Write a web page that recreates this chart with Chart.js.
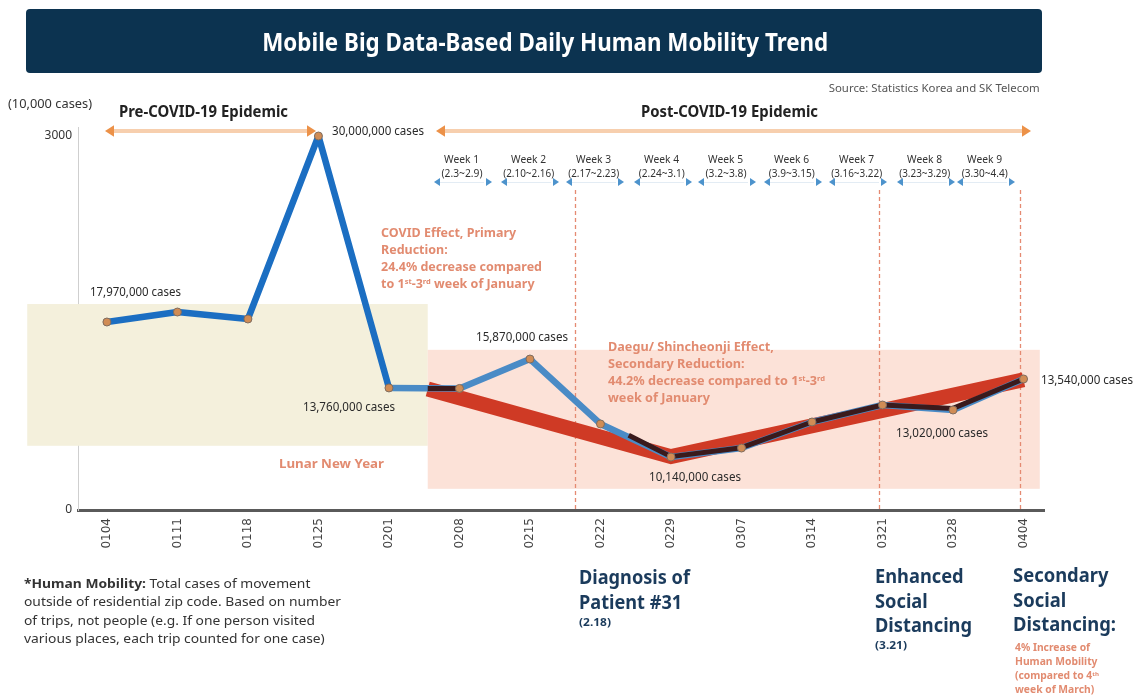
<!DOCTYPE html>
<html>
<head>
<meta charset="utf-8">
<script src="https://cdn.jsdelivr.net/npm/chart.js@4"></script>
<style>
  body { margin: 0; background: #fff; font-family: "Noto Sans", sans-serif; }
  #wrap { position: relative; width: 1138px; height: 695px; overflow: hidden; }
  #chart { position: absolute; left: 0; top: 0; }
  .banner { position: absolute; left: 26px; top: 9px; width: 1016px; height: 64px; background: #0c3350; border-radius: 4px; }
  .t { position: absolute; white-space: nowrap; line-height: 1; }
  .case { font-size: 12px; color: #2a2a2a; }
  .salmon { color: #e28b70; font-weight: bold; }
  .navy { color: #1b3b5c; font-weight: bold; }
  sup { font-size: 0.6em; vertical-align: 0.55em; line-height: 0; }
</style>
</head>
<body>
<div id="wrap">
  <div class="banner"></div>
  <canvas id="chart" width="1138" height="695"></canvas>

  <div class="t" data-x="545" data-align="center" data-w="566" style="top:29px;font-size:25px;font-weight:bold;color:#fff">Mobile Big Data-Based Daily Human Mobility Trend</div>
  <div class="t" data-x="1040" data-align="right" data-w="211" style="top:82px;font-size:11px;color:#555">Source: Statistics Korea and SK Telecom</div>
  <div class="t" data-x="8" data-w="84" style="top:98px;font-size:12px;color:#333">(10,000 cases)</div>
  <div class="t" data-x="119" data-w="169" style="top:103px;font-size:16px;font-weight:bold;color:#222">Pre-COVID-19 Epidemic</div>
  <div class="t" data-x="641" data-w="177" style="top:103px;font-size:16px;font-weight:bold;color:#222">Post-COVID-19 Epidemic</div>

  <div class="t case" data-x="332" data-w="92" style="top:125px">30,000,000 cases</div>
  <div class="t case" data-x="90" data-w="91" style="top:286px">17,970,000 cases</div>
  <div class="t case" data-x="303" data-w="92" style="top:401px">13,760,000 cases</div>
  <div class="t case" data-x="476" data-w="92" style="top:331px">15,870,000 cases</div>
  <div class="t case" data-x="649" data-w="92" style="top:471px">10,140,000 cases</div>
  <div class="t case" data-x="896" data-w="92" style="top:427px">13,020,000 cases</div>
  <div class="t case" data-x="1041" data-w="92" style="top:374px">13,540,000 cases</div>

  <div class="t salmon" data-x="381" data-w="161" style="top:224px;font-size:13px;line-height:17px">COVID Effect, Primary<br>Reduction:<br>24.4% decrease compared<br>to 1<sup>st</sup>-3<sup>rd</sup> week of January</div>
  <div class="t salmon" data-x="608" data-w="217" style="top:338px;font-size:13px;line-height:17px">Daegu/ Shincheonji Effect,<br>Secondary Reduction:<br>44.2% decrease compared to 1<sup>st</sup>-3<sup>rd</sup><br>week of January</div>
  <div class="t salmon" data-x="279" data-w="105" style="top:457px;font-size:13px">Lunar New Year</div>

  <div class="t" data-x="24" data-w="317" style="top:574px;font-size:13px;line-height:18.4px;color:#333"><b>*Human Mobility:</b> Total cases of movement<br>outside of residential zip code. Based on number<br>of trips, not people (e.g. If one person visited<br>various places, each trip counted for one case)</div>

  <div class="t navy" data-x="579" data-w="111" style="top:565px;font-size:19px;line-height:24.5px">Diagnosis of<br>Patient #31</div>
  <div class="t navy" data-x="579" data-w="32" style="top:616px;font-size:11px">(2.18)</div>
  <div class="t navy" data-x="875" data-w="97" style="top:564px;font-size:19px;line-height:24.5px">Enhanced<br>Social<br>Distancing</div>
  <div class="t navy" data-x="875" data-w="32" style="top:639px;font-size:11px">(3.21)</div>
  <div class="t navy" data-x="1013" data-w="103" style="top:563px;font-size:19px;line-height:24.5px">Secondary<br>Social<br>Distancing:</div>
  <div class="t salmon" data-x="1015" data-w="84" style="top:640px;font-size:10px;line-height:14px">4% Increase of<br>Human Mobility<br>(compared to 4<sup>th</sup><br>week of March)</div>
</div>

<script>
const dates = ["0104", "0111", "0118", "0125", "0201", "0208", "0215", "0222", "0229", "0307", "0314", "0321", "0328", "0404"];
// daily human mobility, 10,000 cases
const mobility = [1508, 1588, 1532, 3000, 979, 975, 1211, 690, 425, 497, 706, 842, 802, 1051];
// red trend band
const trendAt = [4.55, 8, 13];
const trendValues = [970, 428, 1045];
// dark overlay line
const darkAt = [4.55, 5, 6, 7.4, 8, 9, 10, 11, 12, 13];
const darkValues = [975, 975, null, 600, 428, 500, 706, 842, 815, 1051];
const weeks = ["Week 1", "Week 2", "Week 3", "Week 4", "Week 5", "Week 6", "Week 7", "Week 8", "Week 9"];
const weekRanges = ["(2.3~2.9)", "(2.10~2.16)", "(2.17~2.23)", "(2.24~3.1)", "(3.2~3.8)", "(3.9~3.15)", "(3.16~3.22)", "(3.23~3.29)", "(3.30~4.4)"];
const yTicks = [0, 3000];

const wrap = document.getElementById("wrap");
const weekX = [462, 529, 594, 662, 726, 792, 857, 925, 985];
weeks.forEach((w, i) => {
  const a = document.createElement("div");
  a.className = "t";
  a.textContent = w;
  a.dataset.x = weekX[i]; a.dataset.align = "center"; a.dataset.w = 35;
  a.style.cssText = "top:153px;font-size:11.5px;color:#333";
  wrap.appendChild(a);
  const b = document.createElement("div");
  b.className = "t";
  b.textContent = weekRanges[i];
  b.dataset.x = weekX[i]; b.dataset.align = "center"; b.dataset.w = Math.round(weekRanges[i].length * 4.6);
  b.style.cssText = "top:168px;font-size:10px;color:#333";
  wrap.appendChild(b);
});

// squeeze each text to the width it has in the picture
document.querySelectorAll(".t[data-w]").forEach(el => {
  const w0 = el.getBoundingClientRect().width;
  const s = Number(el.dataset.w) / w0;
  const x = Number(el.dataset.x);
  const align = el.dataset.align || "left";
  el.style.transformOrigin = align;
  el.style.left = (align === "center" ? x - w0 / 2 : align === "right" ? x - w0 : x) + "px";
  el.style.transform = "scaleX(" + s + ")";
});

// triangle whose tip sits at (x, y), pointing left (-1) or right (1)
function arrowHead(ctx, x, y, dir, size, color) {
  ctx.fillStyle = color;
  ctx.beginPath();
  ctx.moveTo(x, y);
  ctx.lineTo(x - dir * size, y - size * 0.65);
  ctx.lineTo(x - dir * size, y + size * 0.65);
  ctx.closePath();
  ctx.fill();
}

const decor = {
  id: "decor",
  beforeDatasetsDraw(chart) {
    const ctx = chart.ctx;
    const xs = chart.scales.x, ys = chart.scales.y;
    ctx.save();
    // Lunar New Year band
    ctx.fillStyle = "#f4f0dc";
    let l = xs.getPixelForValue(-1.13), r = xs.getPixelForValue(4.55);
    let t = ys.getPixelForValue(1652), b = ys.getPixelForValue(515);
    ctx.fillRect(l, t, r - l, b - t);
    // post-COVID reduction band
    ctx.fillStyle = "#fce2d8";
    l = xs.getPixelForValue(4.55); r = xs.getPixelForValue(13.23);
    t = ys.getPixelForValue(1285); b = ys.getPixelForValue(170);
    ctx.fillRect(l, t, r - l, b - t);
    // y axis line runs a little above the top tick
    ctx.strokeStyle = "#cfcfcf";
    ctx.lineWidth = 1;
    ctx.beginPath();
    ctx.moveTo(chart.chartArea.left + 0.5, 127);
    ctx.lineTo(chart.chartArea.left + 0.5, chart.chartArea.top);
    ctx.stroke();
    // event markers
    ctx.strokeStyle = "#e58a72";
    ctx.lineWidth = 1.3;
    ctx.setLineDash([4, 3]);
    [6.64, 10.95, 12.95].forEach(v => {
      const px = Math.round(xs.getPixelForValue(v)) + 0.5;
      ctx.beginPath();
      ctx.moveTo(px, 190);
      ctx.lineTo(px, ys.getPixelForValue(0));
      ctx.stroke();
    });
    ctx.setLineDash([]);
    // period arrows
    [[105, 316], [436, 1031]].forEach(([a, c]) => {
      ctx.strokeStyle = "#f7cfae";
      ctx.lineWidth = 4;
      ctx.beginPath();
      ctx.moveTo(a + 6, 131);
      ctx.lineTo(c - 6, 131);
      ctx.stroke();
      arrowHead(ctx, a, 131, -1, 9, "#ec9148");
      arrowHead(ctx, c, 131, 1, 9, "#ec9148");
    });
    // week ranges
    weekX.forEach(cx => {
      ctx.strokeStyle = "#e3ecf4";
      ctx.lineWidth = 1;
      ctx.beginPath();
      ctx.moveTo(cx - 22, 182.5);
      ctx.lineTo(cx + 22, 182.5);
      ctx.stroke();
      arrowHead(ctx, cx - 28, 182, -1, 6, "#4d93cc");
      arrowHead(ctx, cx + 30, 182, 1, 6, "#4d93cc");
    });
    ctx.restore();
  }
};

new Chart(document.getElementById("chart"), {
  type: "line",
  data: {
    datasets: [
      {
        data: trendValues.map((v, i) => ({ x: trendAt[i], y: v })),
        borderColor: "#cf3a25",
        borderWidth: 15,
        pointRadius: 0,
        borderJoinStyle: "miter",
        clip: false,
        order: 4,
      },
      {
        data: mobility.map((v, i) => ({ x: i, y: v })),
        borderColor: "#4a8bc6",
        borderWidth: 6.5,
        pointRadius: 0,
        borderJoinStyle: "round",
        segment: { borderColor: c => (c.p0DataIndex < 4 ? "#1b6ec2" : "#4a8bc6") },
        clip: false,
        order: 3,
      },
      {
        data: darkValues.map((v, i) => ({ x: darkAt[i], y: v })),
        borderColor: "#3a1a1c",
        borderWidth: 5,
        pointRadius: 0,
        borderJoinStyle: "round",
        spanGaps: false,
        clip: false,
        order: 2,
      },
      {
        data: mobility.map((v, i) => ({ x: i, y: v })),
        showLine: false,
        pointRadius: 4,
        pointBackgroundColor: "#d08c55",
        pointBorderColor: "#7f6d60",
        pointBorderWidth: 1,
        clip: false,
        order: 1,
      },
    ],
  },
  plugins: [decor],
  options: {
    responsive: false,
    animation: false,
    layout: { padding: { left: 30, top: 136, right: 94, bottom: 135 } },
    plugins: { legend: { display: false }, tooltip: { enabled: false } },
    scales: {
      x: {
        type: "linear",
        min: -0.41,
        max: 13.29,
        afterBuildTicks: s => { s.ticks = dates.map((d, i) => ({ value: i })); },
        afterFit: s => { s.height = 50; },
        ticks: {
          callback: v => dates[v],
          minRotation: 90,
          maxRotation: 90,
          autoSkip: false,
          padding: 8,
          color: "#444",
          font: { family: "DejaVu Sans", size: 12 },
        },
        grid: { display: false, drawTicks: false },
        border: { color: "#5a5a5a", width: 3 },
      },
      y: {
        min: 0,
        max: 3000,
        afterBuildTicks: s => { s.ticks = yTicks.map(v => ({ value: v })); },
        afterFit: s => { s.width = 48; },
        ticks: { padding: 6, color: "#333", font: { family: "Noto Sans", size: 12 }, callback: v => String(v) },
        grid: { display: false, drawTicks: false },
        border: { color: "#cfcfcf", width: 1 },
      },
    },
  },
});
</script>
</body>
</html>
